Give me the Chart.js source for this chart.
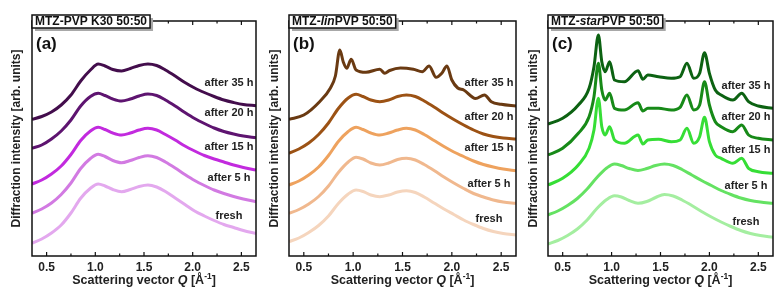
<!DOCTYPE html>
<html>
<head>
<meta charset="utf-8">
<script src="https://cdn.jsdelivr.net/npm/chart.js@4/dist/chart.umd.min.js"></script>
<style>
html, body { margin: 0; padding: 0; background: #fff; }
#wrap { position: relative; width: 777px; height: 291px; overflow: hidden; }
canvas { position: absolute; top: 0; }
</style>
</head>
<body>
<div id="wrap">
  <canvas id="pa" width="258" height="291" style="left:0px"></canvas>
  <canvas id="pb" width="260" height="291" style="left:258px"></canvas>
  <canvas id="pc" width="259" height="291" style="left:518px"></canvas>
</div>
<script>
// scattering vector grids (1/A)
var qAmorph = [0.35, 0.45, 0.55, 0.65, 0.75, 0.85, 0.95, 1.03, 1.1, 1.18, 1.27, 1.36, 1.45, 1.54, 1.63, 1.72, 1.82, 1.92, 2.02, 2.12, 2.22, 2.32, 2.42, 2.52, 2.65];
var qCryst = [0.35, 0.5, 0.66, 0.77, 0.82, 0.865, 0.9, 0.935, 0.98, 1.03, 1.13, 1.27, 1.32, 1.37, 1.48, 1.61, 1.7, 1.77, 1.84, 1.9, 1.95, 2.0, 2.06, 2.12, 2.24, 2.33, 2.4, 2.5, 2.65];
var xTicks = [0.5, 1.0, 1.5, 2.0, 2.5];
var xMinor = [0.75, 1.25, 1.75, 2.25];
var curveNames = ['fresh', 'after 5 h', 'after 15 h', 'after 20 h', 'after 35 h'];

// (a) MTZ-PVP K30
var aFresh = [12.7, 17, 23, 31, 43, 57.7, 67.7, 72, 70, 66.5, 64.3, 66.5, 69.5, 71, 69, 64.5, 58, 51.5, 45, 40, 35.5, 31.5, 28.5, 25.5, 22.5];
var a5h = [42.7, 47, 53, 61.5, 73, 87.5, 97.5, 101.7, 99.5, 95.5, 93.3, 95.5, 98.5, 100.3, 98.5, 94, 88, 81.5, 75.5, 70.5, 66, 62.5, 59.5, 57, 54.3];
var a15h = [72, 76, 82, 90, 101.5, 115.5, 125, 128.7, 126.5, 123, 121, 123, 126, 127.7, 126, 121.5, 116, 110, 105, 100.5, 97, 94, 91, 88.5, 86];
var a20h = [107.7, 111, 117, 125, 136, 150, 159.5, 162.7, 160.5, 157, 155, 157, 160, 162, 160.5, 156, 150, 143.5, 137.5, 132.5, 128, 124.5, 122, 120, 118.3];
var a35h = [136.7, 139.5, 144, 151, 161, 175, 186, 192, 190, 186.5, 185, 187.5, 190.5, 192, 190.5, 186, 180, 173.5, 168, 163.5, 159.5, 156, 153.5, 151.5, 150.3];

// (b) MTZ-linPVP
var bFresh = [14.3, 18, 23.5, 30.5, 40, 52.5, 62, 66, 64.5, 61, 59.3, 61, 64, 65.3, 63.5, 59, 53, 47, 41.5, 36, 31.5, 27.5, 24.5, 22.5, 21];
var b5h = [42.7, 46.5, 52, 59.5, 70, 83.5, 94, 98.7, 97, 93, 91, 93, 96.5, 97.7, 96, 91.5, 85.5, 79, 73, 67.5, 62.5, 59, 56, 54, 52.7];
var b15h = [71, 75, 81, 89, 100.5, 114.5, 124.5, 128.7, 126.5, 123, 121, 123, 126, 127.7, 126, 121.5, 115.5, 109.5, 104, 99.5, 95, 91.5, 89, 87, 85.3];
var b20h = [102.7, 107, 113, 121.5, 133, 147.5, 158, 161.7, 159.5, 156, 154.3, 156, 159.5, 161, 159.5, 155, 149, 142.5, 136.5, 131, 126, 122, 119.5, 118, 117];
var b35h = [136.7, 141, 154.3, 168, 180, 206, 194, 187.7, 196.7, 186, 183.7, 186.7, 182.7, 185.5, 188, 186.7, 184.3, 190, 178.7, 183, 190, 176, 168, 166, 157.5, 161, 154.3, 151.7, 150];

// (c) MTZ-starPVP
var cFresh = [12, 15.5, 20.5, 27, 36, 47.5, 56.5, 60.3, 59, 55.5, 52.7, 54.5, 58.5, 61.5, 60, 56, 50.5, 44.5, 39, 34, 29.5, 25.5, 22.5, 20.5, 18.7];
var c5h = [41, 45, 50.5, 57.5, 67, 78.5, 88, 92, 90.5, 87.5, 85.5, 87.5, 90.5, 92, 90.5, 86.5, 81, 75.5, 70.5, 65.5, 61.5, 58, 55.5, 54, 52.7];
var c15h = [71, 77.7, 91, 107.7, 126, 157.7, 129.3, 121, 129.3, 116, 112.7, 121, 112, 116, 116.7, 114.3, 116, 127.7, 112.7, 119.3, 138.7, 114.3, 101, 97.7, 92.7, 97.7, 87.7, 84.3, 82.7];
var c20h = [101, 107.7, 122.7, 139.3, 159.3, 192.7, 166, 156, 162.7, 147.7, 146, 153.3, 145, 147.7, 147.7, 146, 148.7, 161, 146, 151, 174.3, 151, 134.3, 129.3, 124.3, 131, 121, 117.7, 116];
var c35h = [132, 137.7, 151, 167.7, 189.3, 221, 194.3, 184.3, 194.3, 176, 174.3, 185.3, 176.7, 181, 179.3, 177.7, 179.3, 192.7, 177.7, 182.7, 203.3, 182.7, 166, 161, 156, 162.7, 154.3, 150, 147.7];

var FONT = '"Liberation Sans", Arial, sans-serif';

var panels = [
  {
    id: 'pa', letter: '(a)',
    title: [['MTZ-PVP K30 50:50', false]],
    series: [[qAmorph, aFresh], [qAmorph, a5h], [qAmorph, a15h], [qAmorph, a20h], [qAmorph, a35h]],
    colors: ['#e3a8ee', '#d27ae2', '#c22ade', '#5e1470', '#430d4c'],
    labelY: [40.3, 77.7, 108.7, 142.7, 173.3],
    axisWidth: 32, padRight: 2, yTitlePad: 9.5
  },
  {
    id: 'pb', letter: '(b)',
    title: [['MTZ-', false], ['lin', true], ['PVP 50:50', false]],
    series: [[qAmorph, bFresh], [qAmorph, b5h], [qAmorph, b15h], [qAmorph, b20h], [qCryst, b35h]],
    colors: ['#f5d5bd', '#f0b88e', '#eea25e', '#9c5214', '#6a3a12'],
    labelY: [37, 72, 107.7, 139.3, 173.3],
    axisWidth: 31, padRight: 2, yTitlePad: 9.5
  },
  {
    id: 'pc', letter: '(c)',
    title: [['MTZ-', false], ['star', true], ['PVP 50:50', false]],
    series: [[qAmorph, cFresh], [qAmorph, c5h], [qCryst, c15h], [qCryst, c20h], [qCryst, c35h]],
    colors: ['#a4eea0', '#64e262', '#36de36', '#178a18', '#0c6212'],
    labelY: [34.3, 70.3, 106, 138.7, 170],
    axisWidth: 30, padRight: 4, yTitlePad: 8.5
  }
];

function drawParts(ctx, parts, x, y, size) {
  for (var i = 0; i < parts.length; i++) {
    ctx.font = (parts[i][1] ? 'italic ' : '') + 'bold ' + size + 'px ' + FONT;
    ctx.fillText(parts[i][0], x, y);
    x += ctx.measureText(parts[i][0]).width;
  }
  return x;
}

function partsWidth(ctx, parts, size) {
  var w = 0;
  for (var i = 0; i < parts.length; i++) {
    ctx.font = (parts[i][1] ? 'italic ' : '') + 'bold ' + size + 'px ' + FONT;
    w += ctx.measureText(parts[i][0]).width;
  }
  return w;
}

function decorPlugin(p) {
  return {
    id: 'decor',
    afterDraw: function (chart) {
      var ctx = chart.ctx, ca = chart.chartArea;
      var xs = chart.scales.x, ys = chart.scales.y;
      ctx.save();
      // frame
      ctx.strokeStyle = '#111';
      ctx.lineWidth = 1.5;
      ctx.strokeRect(ca.left, ca.top, ca.right - ca.left, ca.bottom - ca.top);
      // inward ticks, bottom and top
      ctx.lineWidth = 1.2;
      ctx.beginPath();
      xTicks.forEach(function (v) {
        var x = xs.getPixelForValue(v);
        ctx.moveTo(x, ca.bottom); ctx.lineTo(x, ca.bottom - 4);
        ctx.moveTo(x, ca.top); ctx.lineTo(x, ca.top + 4);
      });
      xMinor.forEach(function (v) {
        var x = xs.getPixelForValue(v);
        ctx.moveTo(x, ca.bottom); ctx.lineTo(x, ca.bottom - 2.5);
        ctx.moveTo(x, ca.top); ctx.lineTo(x, ca.top + 2.5);
      });
      ctx.stroke();

      // title box with shadow
      ctx.textBaseline = 'middle';
      ctx.textAlign = 'left';
      var tw = partsWidth(ctx, p.title, 12);
      var bx = ca.left, by = 15, bw = tw + 6, bh = 13;
      ctx.fillStyle = '#a8a8a8';
      ctx.fillRect(bx + 3, by + 3, bw, bh);
      ctx.fillStyle = '#fff';
      ctx.fillRect(bx, by, bw, bh);
      ctx.strokeStyle = '#111';
      ctx.lineWidth = 1.5;
      ctx.strokeRect(bx, by, bw, bh);
      ctx.fillStyle = '#111';
      drawParts(ctx, p.title, bx + 3, by + bh / 2 + 0.5, 12);

      // panel letter
      ctx.font = 'bold 17px ' + FONT;
      ctx.fillText(p.letter, ca.left + 4, 44);

      // curve labels
      ctx.font = 'bold 11px ' + FONT;
      ctx.textAlign = 'center';
      ctx.fillStyle = '#222';
      curveNames.forEach(function (n, i) {
        ctx.fillText(n, ca.right - 27, ys.getPixelForValue(p.labelY[i]));
      });

      // x axis title with italic Q and superscript
      ctx.textAlign = 'left';
      ctx.textBaseline = 'alphabetic';
      var size = 12.5;
      var parts1 = [['Scattering vector ', false], ['Q', true], [' [\u00C5', false]];
      var w1 = partsWidth(ctx, parts1, size);
      ctx.font = 'bold 8.5px ' + FONT;
      var wsup = ctx.measureText('-1').width;
      ctx.font = 'bold ' + size + 'px ' + FONT;
      var wend = ctx.measureText(']').width;
      var x0 = (ca.left + ca.right) / 2 - (w1 + wsup + wend) / 2;
      var yb = 284;
      var x1 = drawParts(ctx, parts1, x0, yb, size);
      ctx.font = 'bold 8.5px ' + FONT;
      ctx.fillText('-1', x1, yb - 5);
      ctx.font = 'bold ' + size + 'px ' + FONT;
      ctx.fillText(']', x1 + wsup, yb);
      ctx.restore();
    }
  };
}

function makeChart(p) {
  var datasets = p.series.map(function (s, i) {
    return {
      label: curveNames[i],
      data: s[0].map(function (q, k) { return {x: q, y: s[1][k]}; }),
      borderColor: p.colors[i],
      backgroundColor: p.colors[i],
      borderWidth: 3,
      pointRadius: 0,
      cubicInterpolationMode: 'monotone',
      fill: false
    };
  });
  return new Chart(document.getElementById(p.id), {
    type: 'line',
    data: {datasets: datasets},
    options: {
      responsive: false,
      animation: false,
      layout: {padding: {top: 21, right: p.padRight, left: 0, bottom: 0}},
      plugins: {legend: {display: false}, tooltip: {enabled: false}},
      scales: {
        x: {
          type: 'linear', min: 0.35, max: 2.65,
          grid: {display: false, drawTicks: false},
          border: {display: false},
          afterBuildTicks: function (s) { s.ticks = xTicks.map(function (v) { return {value: v}; }); },
          afterFit: function (s) { s.height = 35; },
          ticks: {
            padding: 4, color: '#222', autoSkip: false, maxRotation: 0,
            font: {family: FONT, size: 12, weight: 'bold'},
            callback: function (v) { return Number(v).toFixed(1); }
          }
        },
        y: {
          min: 0, max: 235,
          grid: {display: false, drawTicks: false},
          border: {display: false},
          ticks: {display: false},
          title: {
            display: true, text: 'Diffraction intensity [arb. units]', color: '#222',
            font: {family: FONT, size: 12, weight: 'bold'},
            padding: {top: p.yTitlePad, bottom: 0}
          },
          afterFit: function (s) { s.width = p.axisWidth; }
        }
      }
    },
    plugins: [decorPlugin(p)]
  });
}

panels.forEach(makeChart);
</script>
</body>
</html>
